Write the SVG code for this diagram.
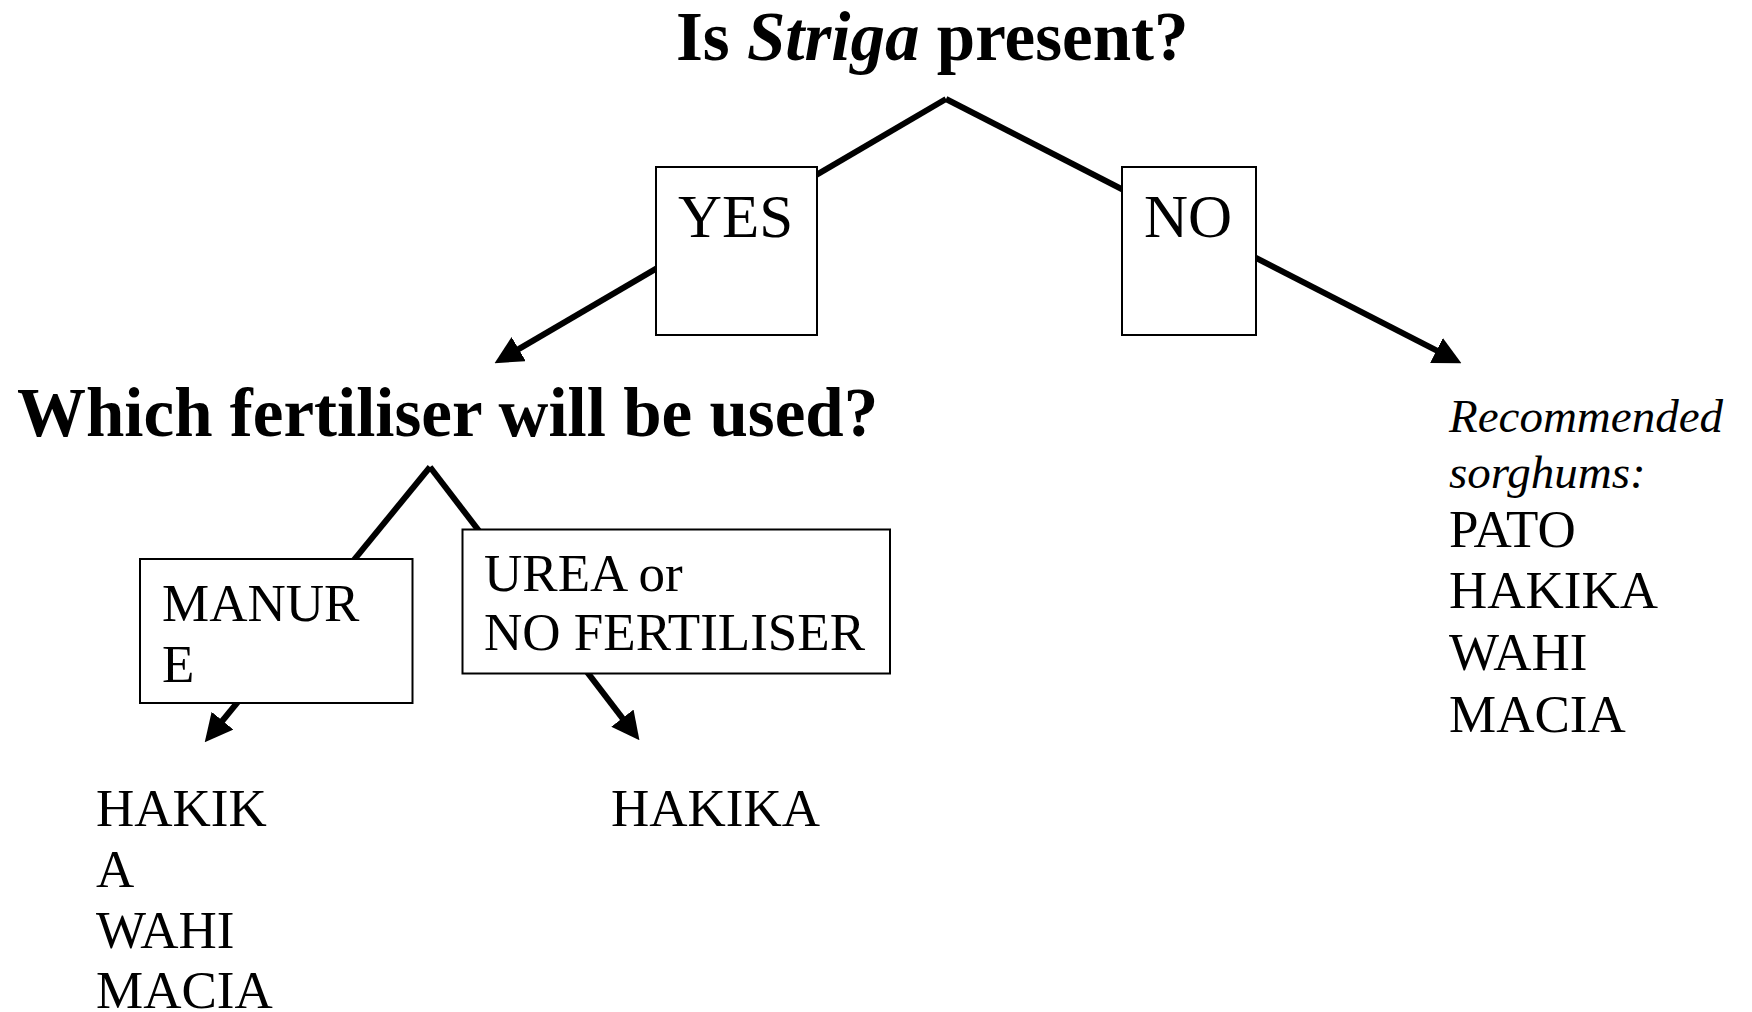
<svg xmlns="http://www.w3.org/2000/svg" width="1752" height="1012" viewBox="0 0 1752 1012">
<style>
  text { font-family: "Liberation Serif", "Times New Roman", serif; fill: #000; }
  .q { font-weight: bold; font-size: 69px; }
  .big { font-size: 61px; }
  .mid { font-size: 53px; }
  .it { font-style: italic; font-size: 47px; }
  .box { fill: #fff; stroke: #000; stroke-width: 2; }
  .conn line { stroke: #000; stroke-width: 6; fill: none; }
</style>
<defs>
  <marker id="arr" markerUnits="userSpaceOnUse" markerWidth="28" markerHeight="28" viewBox="0 0 26 26" refX="7" refY="13" orient="auto">
    <path d="M0,0 L26,13 L0,26 z" fill="#000"/>
  </marker>
</defs>
<rect width="1752" height="1012" fill="#fff"/>
<g class="conn" id="connectors">
  <line x1="946" y1="99" x2="512.2" y2="352.9" marker-end="url(#arr)"/>
  <line x1="946" y1="99" x2="1443.2" y2="353.9" marker-end="url(#arr)"/>
  <line x1="430" y1="467" x2="217.7" y2="726.5" marker-end="url(#arr)"/>
  <line x1="430" y1="467" x2="627" y2="724.1" marker-end="url(#arr)"/>
</g>
<g id="q1">
  <text class="q" x="676" y="60">Is <tspan font-style="italic">Striga</tspan> present?</text>
</g>
<g id="yes">
  <rect class="box" x="656" y="167" width="161" height="168"/>
  <text class="big" x="678" y="237">YES</text>
</g>
<g id="no">
  <rect class="box" x="1122" y="167" width="134" height="168"/>
  <text class="big" x="1144" y="237">NO</text>
</g>
<g id="q2">
  <text class="q" x="17" y="436">Which fertiliser will be used?</text>
</g>
<g id="manure">
  <rect class="box" x="140" y="559" width="272.5" height="144"/>
  <text class="mid" x="162" y="621">MANUR</text>
  <text class="mid" x="162" y="682">E</text>
</g>
<g id="urea">
  <rect class="box" x="462.5" y="529.5" width="427.5" height="144"/>
  <text class="mid" x="484" y="591">UREA or</text>
  <text class="mid" x="484" y="650">NO FERTILISER</text>
</g>
<g id="list-manure">
  <text class="mid" x="96" y="826">HAKIK</text>
  <text class="mid" x="96" y="887">A</text>
  <text class="mid" x="96" y="948">WAHI</text>
  <text class="mid" x="96" y="1008">MACIA</text>
</g>
<g id="list-urea">
  <text class="mid" x="611" y="826">HAKIKA</text>
</g>
<g id="list-no">
  <text class="it" x="1449" y="432">Recommended</text>
  <text class="it" x="1449" y="488">sorghums:</text>
  <text class="mid" x="1449" y="547">PATO</text>
  <text class="mid" x="1449" y="608">HAKIKA</text>
  <text class="mid" x="1449" y="670">WAHI</text>
  <text class="mid" x="1449" y="732">MACIA</text>
</g>
</svg>
